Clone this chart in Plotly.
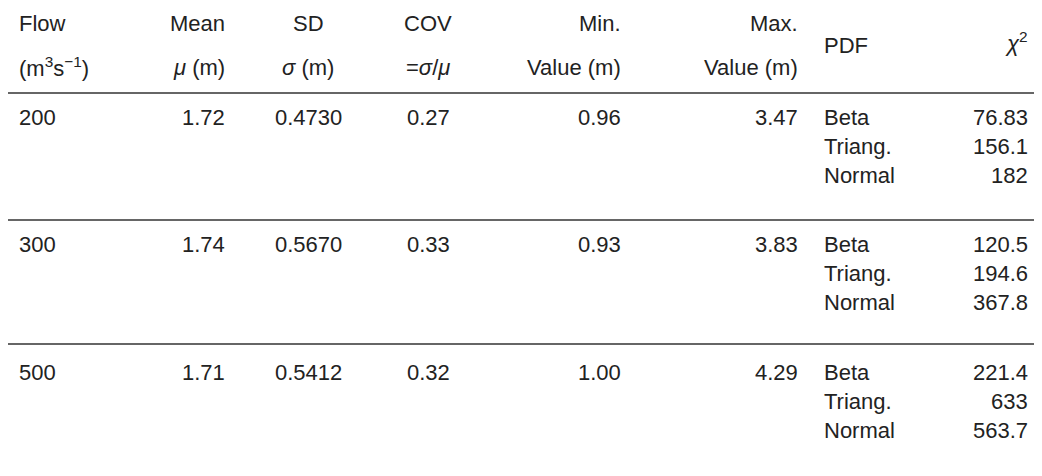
import plotly.graph_objects as go

# table data
flows = ["200", "300", "500"]
means = ["1.72", "1.74", "1.71"]
sds = ["0.4730", "0.5670", "0.5412"]
covs = ["0.27", "0.33", "0.32"]
mins = ["0.96", "0.93", "1.00"]
maxs = ["3.47", "3.83", "4.29"]
pdfs = ["Beta", "Triang.", "Normal"]
chi2 = [["76.83", "156.1", "182"],
        ["120.5", "194.6", "367.8"],
        ["221.4", "633", "563.7"]]

headers = [
    ("Flow", "(m<sup>3</sup>s<sup>\u22121</sup>)", 17, "left"),
    ("Mean", "<i>\u03bc</i> (m)", 227, "right"),
    ("SD", "<i>\u03c3</i> (m)", 308, "center"),
    ("COV", "=<i>\u03c3</i>/<i>\u03bc</i>", 428, "center"),
    ("Min.", "Value (m)", 623, "right"),
    ("Max.", "Value (m)", 800, "right"),
]

W, H = 1042, 476
PAD = 8  # page body margin
FONT = dict(family="Liberation Sans, Arial, sans-serif", size=22, color="#222")

fig = go.Figure()
ann = []

def add(text, x, y, align):
    ann.append(dict(text=text, x=x, y=y, xref="x", yref="y", showarrow=False,
                    xanchor=align, yanchor="middle", font=FONT))

for top, bottom, x, al in headers:
    add(top, x, 23, al)
    add(bottom, x, 67, al)
add("PDF", 822, 45, "left")
add("<i>\u03c7</i><sup>2</sup>", 1030, 42, "right")

row_starts = [117, 244, 372]
pitch = 29
for i, y0 in enumerate(row_starts):
    add(flows[i], 17, y0, "left")
    add(means[i], 227, y0, "right")
    add(sds[i], 308, y0, "center")
    add(covs[i], 428, y0, "center")
    add(mins[i], 623, y0, "right")
    add(maxs[i], 800, y0, "right")
    for j, p in enumerate(pdfs):
        add(p, 822, y0 + j * pitch, "left")
        add(chi2[i][j], 1030, y0 + j * pitch, "right")

shapes = [dict(type="line", x0=0, x1=W, y0=y, y1=y, xref="x", yref="y",
               line=dict(color="#666", width=2)) for y in [93, 220, 344, 471]]

fig.update_layout(
    width=W - 2 * PAD, height=H - 2 * PAD, margin=dict(l=0, r=0, t=0, b=0),
    paper_bgcolor="white", plot_bgcolor="white",
    xaxis=dict(range=[PAD, W - PAD], visible=False, fixedrange=True),
    yaxis=dict(range=[H - PAD, PAD], visible=False, fixedrange=True),
    annotations=ann, shapes=shapes, showlegend=False,
)
fig.write_html("out.html")
